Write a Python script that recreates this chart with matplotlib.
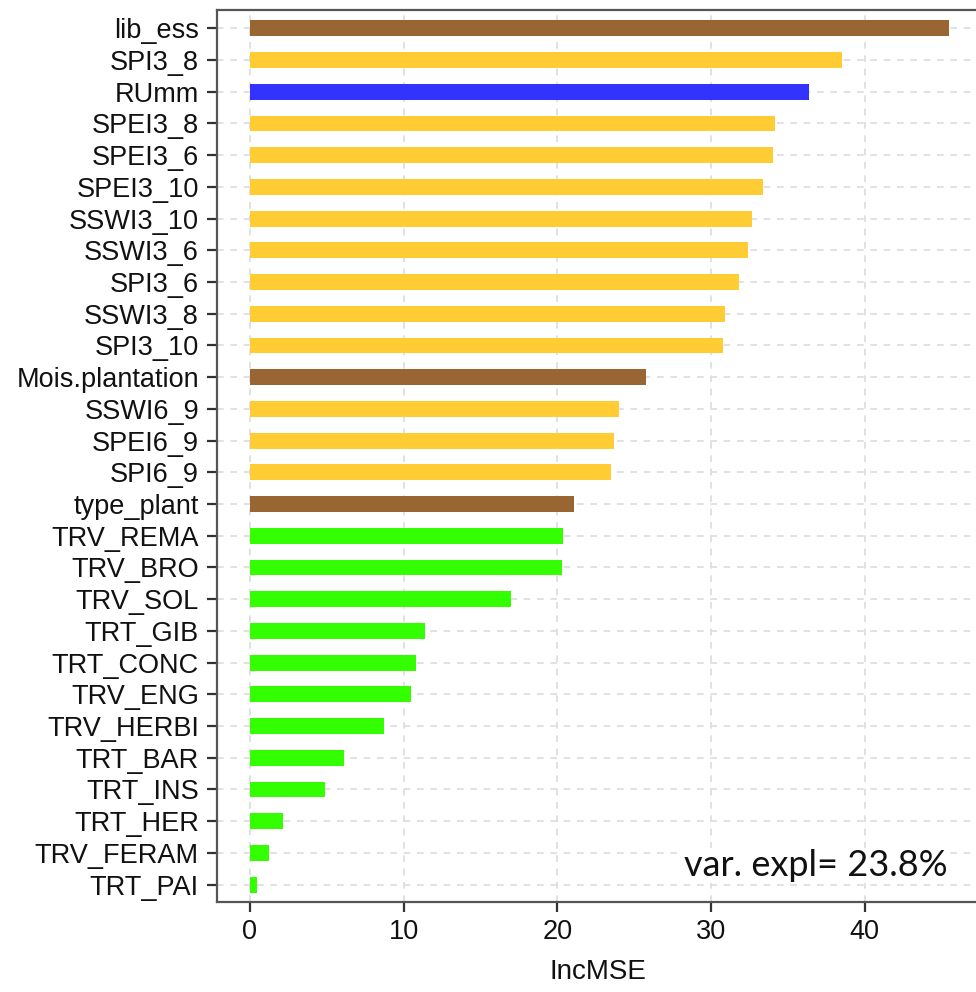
import matplotlib
matplotlib.use('Agg')
import matplotlib.pyplot as plt
import numpy as np

# variables, ordre du haut vers le bas
variables = ['lib_ess', 'SPI3_8', 'RUmm', 'SPEI3_8', 'SPEI3_6', 'SPEI3_10',
             'SSWI3_10', 'SSWI3_6', 'SPI3_6', 'SSWI3_8', 'SPI3_10',
             'Mois.plantation', 'SSWI6_9', 'SPEI6_9', 'SPI6_9', 'type_plant',
             'TRV_REMA', 'TRV_BRO', 'TRV_SOL', 'TRT_GIB', 'TRT_CONC', 'TRV_ENG',
             'TRV_HERBI', 'TRT_BAR', 'TRT_INS', 'TRT_HER', 'TRV_FERAM', 'TRT_PAI']
incmse = [45.5, 38.5, 36.4, 34.2, 34.05, 33.4,
          32.7, 32.4, 31.8, 30.9, 30.8,
          25.8, 24.0, 23.7, 23.5, 21.1,
          20.4, 20.3, 17.0, 11.4, 10.8, 10.5,
          8.7, 6.1, 4.9, 2.15, 1.25, 0.45]
groupes = ['site', 'clim', 'sol', 'clim', 'clim', 'clim',
           'clim', 'clim', 'clim', 'clim', 'clim',
           'site', 'clim', 'clim', 'clim', 'site',
           'trav', 'trav', 'trav', 'trav', 'trav', 'trav',
           'trav', 'trav', 'trav', 'trav', 'trav', 'trav']
couleurs = {'site': '#996633', 'clim': '#FFCC33', 'sol': '#3333FF', 'trav': '#33FF00'}
texte_var = 'var. expl= 23.8%'

fig = plt.figure(figsize=(9.76, 9.92), dpi=100, facecolor='white')
ax = fig.add_axes([0.2223, 0.0907, 0.78, 0.899])

n = len(variables)
y = np.arange(n)[::-1]
cols = [couleurs[g] for g in groupes]
ax.barh(y, incmse, height=0.5, color=cols, zorder=3)

ax.set_xlim(-2.15, 47.4)
ax.set_ylim(-0.55, n - 1 + 0.57)
ax.set_xticks([0, 10, 20, 30, 40])
ax.set_yticks(y)
ax.set_yticklabels(variables)

# grille pointillée
ax.grid(True, color='#dcdcdc', linestyle=(0, (4, 4)), linewidth=1.2, zorder=0)
ax.set_axisbelow(True)

for s in ['left', 'bottom', 'top', 'right']:
    ax.spines[s].set_color('#555555')
    ax.spines[s].set_linewidth(1.6)

ax.tick_params(axis='both', length=7, width=1.6, color='#333333',
               labelsize=19.5, labelcolor='#111111')
ax.tick_params(axis='y', pad=6)
ax.tick_params(axis='x', pad=5)
for lab in ax.get_xticklabels() + ax.get_yticklabels():
    lab.set_family('Liberation Sans')

ax.set_xlabel('IncMSE', fontsize=20, family='Liberation Sans', color='#111111', labelpad=10)

ax.text(45.4, 0.6, texte_var, fontsize=26, family='Lato', ha='right', va='center',
        color='#111111', zorder=4,
        bbox=dict(facecolor='white', edgecolor='none', pad=1))

fig.savefig('out.png', dpi=100, facecolor='white')
